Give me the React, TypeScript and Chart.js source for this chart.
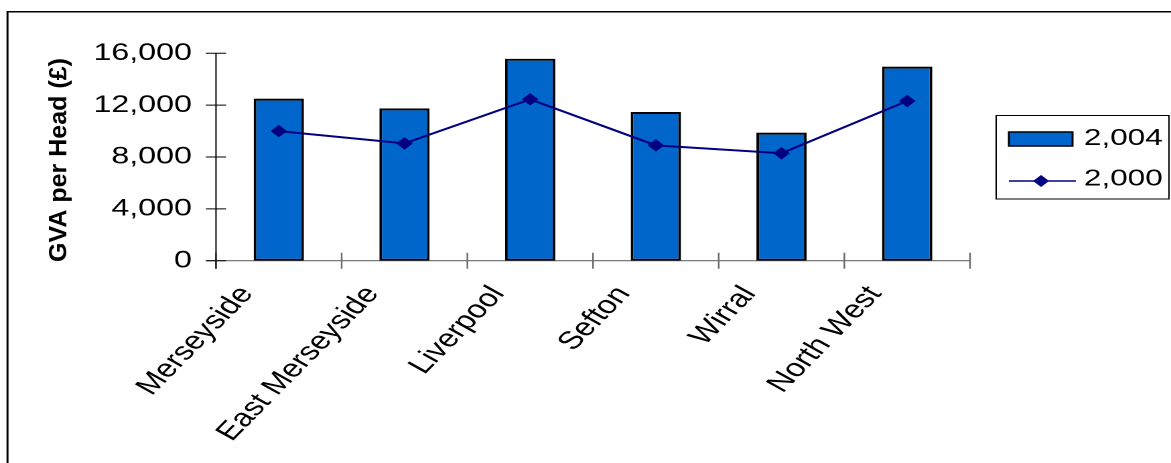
import { useEffect, useRef } from 'react';
import { Chart, registerables } from 'chart.js';

Chart.register(...registerables);

// Regions along the category axis
const categories = ['Merseyside', 'East Merseyside', 'Liverpool', 'Sefton', 'Wirral', 'North West'];
// GVA per head (£), later year (bars)
const gva2004 = [12500, 11750, 15580, 11470, 9880, 14970];
// GVA per head (£), earlier year (line)
const gva2000 = [10000, 9050, 12450, 8900, 8290, 12320];
const seriesLabels = ['2,004', '2,000'];
const yTicks = [0, 4000, 8000, 12000, 16000];
const yTitle = 'GVA per Head (£)';

const FONT = '"Liberation Sans", Arial, Helvetica, sans-serif';
const VIEW_W = 1171;
const VIEW_H = 463;
// The drawing is laid out on a narrower canvas and widened on screen.
const STRETCH = 1.34;
const CANVAS_W = Math.round(VIEW_W / STRETCH);

const BAR_FILL = '#0066CC';
const LINE_COLOR = '#000080';

const decorations = {
  id: 'decorations',
  beforeDraw(chart: any) {
    const { ctx, width, height } = chart;
    ctx.save();
    ctx.fillStyle = '#ffffff';
    ctx.fillRect(0, 0, width, height);
    // outer frame
    ctx.strokeStyle = '#000';
    ctx.lineWidth = 1.5;
    ctx.beginPath();
    ctx.moveTo(5.6, height + 4);
    ctx.lineTo(5.6, 11.7);
    ctx.lineTo(width + 4, 11.7);
    ctx.stroke();
    ctx.restore();
  },
  beforeDatasetsDraw(chart: any) {
    const { ctx, chartArea: a, scales } = chart;
    const y = scales.y;
    const n = categories.length;
    const step = (a.right - a.left) / n;
    ctx.save();
    // category axis with crossing tick marks at category boundaries
    ctx.strokeStyle = '#6a6a6a';
    ctx.lineWidth = 1.2;
    ctx.beginPath();
    ctx.moveTo(a.left - 7.5, a.bottom);
    ctx.lineTo(a.right, a.bottom);
    for (let i = 0; i <= n; i++) {
      const px = a.left + i * step;
      ctx.moveTo(px, a.bottom - 8);
      ctx.lineTo(px, a.bottom + 8);
    }
    ctx.stroke();
    // value axis with crossing tick marks
    ctx.strokeStyle = '#000';
    ctx.lineWidth = 1;
    ctx.beginPath();
    ctx.moveTo(a.left, y.getPixelForValue(yTicks[yTicks.length - 1]));
    ctx.lineTo(a.left, a.bottom + 8);
    for (const v of yTicks) {
      const py = y.getPixelForValue(v);
      ctx.moveTo(a.left - 7.5, py);
      ctx.lineTo(a.left + 7.5, py);
    }
    ctx.stroke();
    ctx.restore();
  },
  afterDraw(chart: any) {
    const { ctx, chartArea: a } = chart;
    const [barSet, lineSet] = chart.data.datasets;
    ctx.save();

    // value axis title, rotated
    ctx.save();
    ctx.translate(49.6, (a.top + a.bottom) / 2 + 3);
    ctx.rotate(-Math.PI / 2);
    ctx.scale(1.332, 1);
    ctx.fillStyle = '#000';
    ctx.font = `bold 18.8px ${FONT}`;
    ctx.textAlign = 'center';
    ctx.textBaseline = 'alphabetic';
    ctx.fillText(yTitle, 0, 0);
    ctx.restore();

    // legend
    const lx = a.right + 19.5;
    const ly = 115.5;
    const lw = 129;
    const lh = 83.5;
    ctx.strokeStyle = '#000';
    ctx.lineWidth = 1;
    ctx.strokeRect(lx, ly, lw, lh);

    ctx.fillStyle = barSet.backgroundColor;
    ctx.fillRect(lx + 9.5, ly + 16.5, 47.5, 14);
    ctx.lineWidth = 1.5;
    ctx.strokeStyle = barSet.borderColor;
    ctx.strokeRect(lx + 9.5, ly + 16.5, 47.5, 14);

    ctx.strokeStyle = lineSet.borderColor;
    ctx.lineWidth = 1.5;
    ctx.beginPath();
    ctx.moveTo(lx + 9.5, ly + 65.5);
    ctx.lineTo(lx + 59.5, ly + 65.5);
    ctx.stroke();
    ctx.fillStyle = lineSet.borderColor;
    const dx = lx + 33.5;
    const dy = ly + 65.5;
    ctx.beginPath();
    ctx.moveTo(dx - 6, dy);
    ctx.lineTo(dx, dy - 6);
    ctx.lineTo(dx + 6, dy);
    ctx.lineTo(dx, dy + 6);
    ctx.closePath();
    ctx.fill();

    ctx.fillStyle = '#000';
    ctx.font = `23.5px ${FONT}`;
    ctx.textAlign = 'left';
    ctx.textBaseline = 'alphabetic';
    ctx.fillText(barSet.label, lx + 65.5, ly + 29.5);
    ctx.fillText(lineSet.label, lx + 65.5, ly + 70);
    ctx.restore();
  },
};

export default function App() {
  const ref = useRef<HTMLCanvasElement>(null);

  useEffect(() => {
    document.body.style.margin = '0';
    const canvas = ref.current!;
    canvas.width = CANVAS_W;
    canvas.height = VIEW_H;
    const chart = new Chart(canvas, {
      type: 'bar',
      data: {
        labels: categories,
        datasets: [
          {
            type: 'bar',
            label: seriesLabels[0],
            data: gva2004,
            backgroundColor: BAR_FILL,
            borderColor: '#000',
            borderWidth: 2,
            borderSkipped: false,
            barPercentage: 0.4,
            categoryPercentage: 1,
            order: 1,
          },
          {
            type: 'line',
            label: seriesLabels[1],
            data: gva2000,
            borderColor: LINE_COLOR,
            backgroundColor: LINE_COLOR,
            borderWidth: 2,
            tension: 0,
            pointStyle: 'rectRot',
            pointRadius: 5.5,
            pointBorderWidth: 1,
            pointBackgroundColor: LINE_COLOR,
            pointBorderColor: LINE_COLOR,
            order: 0,
          },
        ],
      } as any,
      plugins: [decorations],
      options: {
        responsive: false,
        devicePixelRatio: 2,
        animation: false,
        events: [],
        layout: { padding: { left: 0, top: 53.3, right: CANVAS_W - 724, bottom: 0 } },
        plugins: { legend: { display: false }, tooltip: { enabled: false } },
        scales: {
          x: {
            offset: true,
            grid: { display: false, drawTicks: false },
            border: { display: false },
            ticks: {
              autoSkip: false,
              minRotation: 53.3,
              maxRotation: 53.3,
              padding: 20,
              labelOffset: -24,
              color: '#000',
              font: { family: FONT, size: 25 },
            },
            afterFit: (s: any) => {
              s.height = VIEW_H - 260.7;
            },
          },
          y: {
            min: 0,
            max: 16000,
            grid: { display: false, drawTicks: false },
            border: { display: false },
            afterBuildTicks: (s: any) => {
              s.ticks = yTicks.map((v) => ({ value: v }));
            },
            ticks: {
              padding: 18,
              color: '#000',
              font: { family: FONT, size: 24 },
              callback: (v: any) => Number(v).toLocaleString('en-US'),
            },
            afterFit: (s: any) => {
              s.width = 161.2;
            },
          },
        },
      } as any,
    });
    return () => chart.destroy();
  }, []);

  return (
    <canvas
      ref={ref}
      width={CANVAS_W}
      height={VIEW_H}
      style={{ display: 'block', width: `${VIEW_W}px`, height: `${VIEW_H}px` }}
    />
  );
}
